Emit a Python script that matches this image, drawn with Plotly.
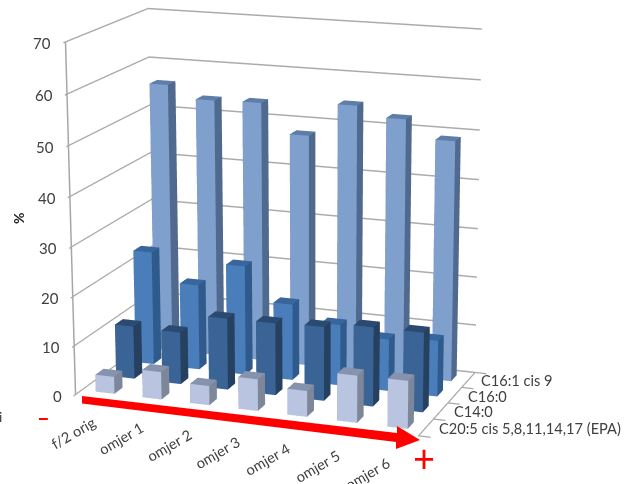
import plotly.graph_objects as go

categories = ["f/2 orig", "omjer 1", "omjer 2", "omjer 3", "omjer 4", "omjer 5", "omjer 6"]
series_names = ["C20:5 cis 5,8,11,14,17 (EPA)", "C14:0", "C16:0", "C16:1 cis 9"]
epa = [3.5, 5.6, 3.9, 6.4, 5.2, 9.4, 9.5]
c14 = [10.9, 10.7, 14.6, 14.7, 15.0, 16.0, 16.0]
c16 = [23.6, 17.7, 22.6, 15.7, 12.5, 10.6, 11.4]
c161 = [56.0, 53.5, 53.7, 47.8, 54.6, 52.6, 49.0]
z_ticks = [0, 10, 20, 30, 40, 50, 60, 70]

W, H = 2500, 1936
OFF_X, OFF_Y = 938, 726
def px(x): return (x + OFF_X) / W
def py(y): return 1 - (y + OFF_Y) / H

bar_w = 0.4
def bar_mesh(vals, row, front, side, top, name):
    xs, ys, zs, I, J, K, fc = [], [], [], [], [], [], []
    for c, v in enumerate(vals):
        x0, x1 = c + .5 - bar_w / 2, c + .5 + bar_w / 2
        y0, y1 = row + .5 - bar_w / 2, row + .5 + bar_w / 2
        b = len(xs)
        xs += [x0, x1, x1, x0, x0, x1, x1, x0]
        ys += [y0, y0, y1, y1, y0, y0, y1, y1]
        zs += [0, 0, 0, 0, v, v, v, v]
        faces = [((0, 1, 5), front), ((0, 5, 4), front), ((1, 2, 6), side), ((1, 6, 5), side),
                 ((4, 5, 6), top), ((4, 6, 7), top), ((3, 2, 6), side), ((3, 6, 7), side),
                 ((0, 3, 7), side), ((0, 7, 4), side), ((0, 1, 2), side), ((0, 2, 3), side)]
        for (a, bb, cc), col in faces:
            I.append(b + a); J.append(b + bb); K.append(b + cc); fc.append(col)
    return go.Mesh3d(x=xs, y=ys, z=zs, i=I, j=J, k=K, facecolor=fc, flatshading=True, name=name,
                     hoverinfo="skip", lighting=dict(ambient=1, diffuse=0, specular=0, fresnel=0, roughness=1))

fig = go.Figure()
fig.add_trace(bar_mesh(c161, 3, "#7F9FCD", "#4F6A8E", "#5E7DA8", series_names[3]))
fig.add_trace(bar_mesh(c16, 2, "#4A7EBB", "#2F5A8C", "#38659B", series_names[2]))
fig.add_trace(bar_mesh(c14, 1, "#3A6496", "#26405F", "#2A4A72", series_names[1]))
fig.add_trace(bar_mesh(epa, 0, "#B9C5E0", "#7D8799", "#8593AE", series_names[0]))

lab = dict(family="Lato, Carlito, sans-serif", size=14.6, color="#404040")
ann = []
for i, c in enumerate(categories):
    ann.append(dict(x=i + .5, y=0, z=0, text=c, textangle=-30, showarrow=False, xshift=-25,
                    yshift=-35 - 0.9 * i, font=lab))
for j, s in enumerate(series_names):
    ann.append(dict(x=7, y=j + .5, z=0, text=s, showarrow=False, xanchor="left", xshift=11, yshift=-1, font=lab))
for z in z_ticks:
    ann.append(dict(x=0, y=0, z=z, text=str(z), showarrow=False, xanchor="right", xshift=-12, yshift=-1,
                    font=dict(lab, size=15)))

axis = dict(showbackground=False, showticklabels=False, title=dict(text=""), showspikes=False, zeroline=False,
            showgrid=False, showline=True, linecolor="#A6A6A6", linewidth=3, ticks="outside", ticklen=4,
            tickcolor="#A6A6A6", tickwidth=3)

arrow_path = "M {} {} L {} {} L {} {} L {} {} L {} {} L {} {} L {} {} Z".format(
    px(82), py(396), px(397), py(433), px(397), py(426), px(420), py(440), px(396), py(449), px(396), py(442), px(82), py(403.5))

fig.update_layout(
    width=W, height=H, margin=dict(l=0, r=0, t=0, b=0), paper_bgcolor="white", showlegend=False,
    scene=dict(domain=dict(x=[0, 1], y=[0, 1]), aspectmode="manual", aspectratio=dict(x=1.0021, y=0.5582, z=1),
               camera=dict(eye=dict(x=2.1818, y=-5.8947, z=1.6537), center=dict(x=0.0979, y=0.0117, z=-0.0779),
                           up=dict(x=0, y=0, z=1), projection=dict(type="perspective")),
               xaxis=dict(axis, range=[0, 7], tickvals=list(range(8)), showline=False, ticks=""),
               yaxis=dict(axis, range=[0, 4], tickvals=list(range(5))),
               zaxis=dict(axis, range=[0, 70], tickvals=z_ticks, showgrid=True, gridcolor="#ABABAB", gridwidth=3),
               annotations=ann),
    shapes=[dict(type="path", xref="paper", yref="paper", path=arrow_path, fillcolor="#FF0000", line=dict(width=0))],
    annotations=[
        dict(x=px(19), y=py(218), xref="paper", yref="paper", text="<b>%</b>", textangle=-90, showarrow=False,
             font=dict(family="Lato, sans-serif", size=14, color="#262626")),
        dict(x=px(43.5), y=py(417), xref="paper", yref="paper", text="<b>–</b>", showarrow=False,
             font=dict(family="Lato, sans-serif", size=22, color="#FF0000")),
        dict(x=px(424), y=py(457), xref="paper", yref="paper", text="+", showarrow=False,
             font=dict(family="Lato, sans-serif", size=38, color="#FF0000")),
        dict(x=px(0), y=py(416), xref="paper", yref="paper", text="i", xanchor="center", showarrow=False,
             font=dict(family="Lato, sans-serif", size=14, color="#404040")),
    ])
js = ("document.body.style.margin=0;document.body.style.overflow='hidden';"
      "var g=document.getElementById('{plot_id}');g.style.position='absolute';"
      f"g.style.left='-{OFF_X}px';g.style.top='-{OFF_Y}px';")
fig.write_html("out.html", config=dict(displayModeBar=False), post_script=js)
